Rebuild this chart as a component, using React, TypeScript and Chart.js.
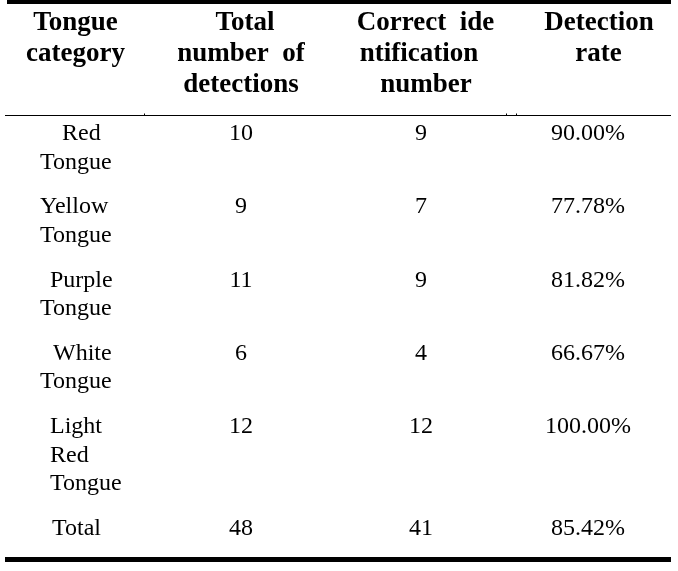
import React, { useEffect, useRef } from "react";
import { Chart, registerables } from "chart.js";

Chart.register(...registerables);

// ---- data ----
const headerLines: string[][] = [
  ["Tongue", "category"],
  ["Total", "number  of", "detections"],
  ["Correct  ide", "ntification", "number"],
  ["Detection", "rate"],
];
const categories = ["Red Tongue", "Yellow Tongue", "Purple Tongue", "White Tongue", "Light Red Tongue", "Total"];
const totalDetections = [10, 9, 11, 6, 12, 48];
const correctIdentifications = [9, 7, 9, 4, 12, 41];
const detectionRates = [90.0, 77.78, 81.82, 66.67, 100.0, 85.42];

// ---- layout (axis units = pixels of the 678x571 frame) ----
const W = 678;
const H = 571;
const HEADER_CENTERS = [[75.5, 75.5], [245, 241, 241], [425.5, 419, 426], [599, 598.5]];
const HEADER_BASE = 29.5;
const HEADER_LINE_H = 31.2;
const COL_CENTERS = [0, 241, 421, 588];
const CAT_LEFTS = [[62, 40], [40, 40], [50, 40], [53, 40], [50, 50, 50], [52]];
const BODY_TOP = 140;
const BODY_LINE_H = 28.5;
const ROW_GAP = 16.25;
const SERIF = '"Liberation Serif", "Times New Roman", Times, serif';

export default function App() {
  const ref = useRef<HTMLCanvasElement | null>(null);

  useEffect(() => {
    document.body.style.margin = "0";
    const canvas = ref.current;
    if (!canvas) return;

    const catLines = categories.map((c) => c.split(" "));
    const rowY: number[] = [];
    let y = BODY_TOP;
    catLines.forEach((lines) => {
      rowY.push(y);
      y += lines.length * BODY_LINE_H + ROW_GAP;
    });

    const tablePlugin = {
      id: "tablePlugin",
      afterDraw(chart: any) {
        const ctx = chart.ctx as CanvasRenderingContext2D;
        const xs = chart.scales.x;
        const ys = chart.scales.y;
        const px = (v: number) => xs.getPixelForValue(v);
        const py = (v: number) => ys.getPixelForValue(v);
        ctx.save();
        ctx.fillStyle = "#000";
        ctx.fillRect(px(7), py(0), px(671) - px(7), py(4) - py(0));
        ctx.fillRect(px(5), py(115), px(671) - px(5), py(116) - py(115));
        ctx.fillRect(px(144), py(113.5), 1, 1.5);
        ctx.fillRect(px(506), py(113.5), 1, 1.5);
        ctx.fillRect(px(516), py(113.5), 1, 1.5);
        ctx.fillRect(px(5), py(557), px(671) - px(5), py(562) - py(557));

        // header
        ctx.font = `bold 27px ${SERIF}`;
        ctx.textAlign = "center";
        ctx.textBaseline = "alphabetic";
        headerLines.forEach((lines, c) => {
          lines.forEach((t, i) => {
            ctx.fillText(t, px(HEADER_CENTERS[c][i]), py(HEADER_BASE + i * HEADER_LINE_H));
          });
        });

        // body
        ctx.font = `normal 400 24px ${SERIF}`;
        catLines.forEach((lines, r) => {
          ctx.textAlign = "left";
          lines.forEach((t, i) => {
            ctx.fillText(t, px(CAT_LEFTS[r][i]), py(rowY[r] + i * BODY_LINE_H));
          });
          ctx.textAlign = "center";
          ctx.fillText(String(totalDetections[r]), px(COL_CENTERS[1]), py(rowY[r]));
          ctx.fillText(String(correctIdentifications[r]), px(COL_CENTERS[2]), py(rowY[r]));
          ctx.fillText(detectionRates[r].toFixed(2) + "%", px(COL_CENTERS[3]), py(rowY[r]));
        });
        ctx.restore();
      },
    };

    const chart = new Chart(canvas, {
      type: "scatter",
      data: {
        datasets: [
          { data: totalDetections.map((_, r) => ({ x: COL_CENTERS[1], y: rowY[r] })), pointRadius: 0 },
          { data: correctIdentifications.map((_, r) => ({ x: COL_CENTERS[2], y: rowY[r] })), pointRadius: 0 },
          { data: detectionRates.map((_, r) => ({ x: COL_CENTERS[3], y: rowY[r] })), pointRadius: 0 },
        ],
      },
      options: {
        animation: false,
        responsive: false,
        devicePixelRatio: 1,
        layout: { padding: 0 },
        plugins: { legend: { display: false }, tooltip: { enabled: false } },
        events: [],
        scales: {
          x: { type: "linear", min: 0, max: W, display: false },
          y: { type: "linear", min: 0, max: H, reverse: true, display: false },
        },
      },
      plugins: [tablePlugin],
    });

    let alive = true;
    const fonts: any = (document as any).fonts;
    if (fonts && fonts.load) {
      Promise.all([
        fonts.load('normal 400 24px "Liberation Serif"'),
        fonts.load('bold 27px "Liberation Serif"'),
      ])
        .then(() => {
          if (alive) chart.update();
        })
        .catch(() => {});
    }
    return () => {
      alive = false;
      chart.destroy();
    };
  }, []);

  return (
    <div style={{ width: W, height: H, background: "#fff" }}>
      <canvas ref={ref} width={W} height={H} />
    </div>
  );
}
